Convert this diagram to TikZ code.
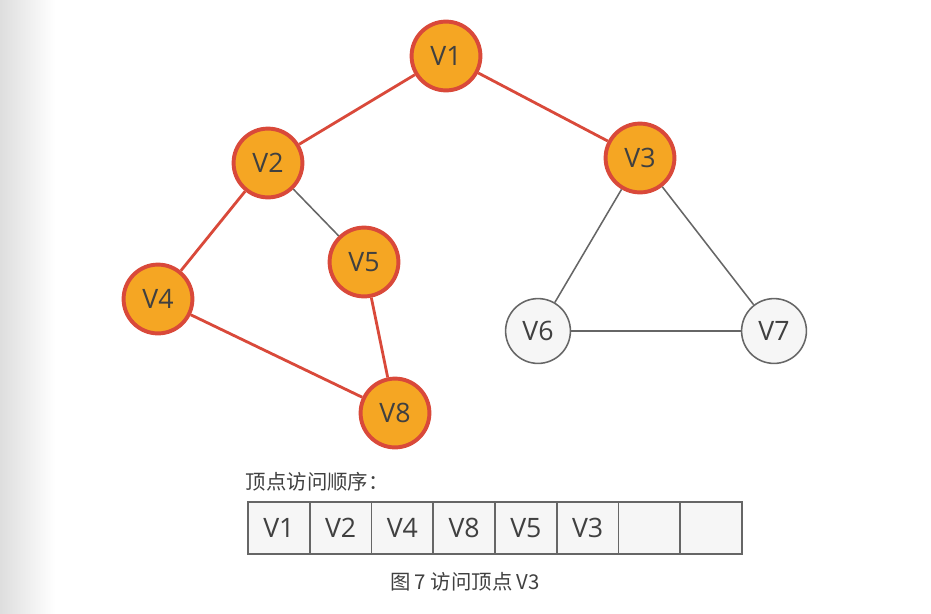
\documentclass[tikz,border=0pt]{standalone}
\usepackage{fontspec}
\setmainfont{Open Sans}
\newfontfamily\cjk{Noto Sans CJK SC}
\usetikzlibrary{positioning}
\definecolor{visitfill}{HTML}{F5A623}
\definecolor{visitline}{HTML}{D9493A}
\definecolor{idleline}{HTML}{666666}
\definecolor{idlefill}{HTML}{F6F6F6}
\definecolor{txt}{HTML}{404040}

\begin{document}
\begin{tikzpicture}[x=0.025cm, y=-0.025cm, font=\fontsize{19}{22}\selectfont, text=txt,
  visited/.style={circle, draw=visitline, line width=2.8pt, fill=visitfill, minimum size=1.72cm, inner sep=0pt},
  idle/.style={circle, draw=idleline, line width=1.1pt, fill=idlefill, minimum size=1.62cm, inner sep=0pt},
  redge/.style={draw=visitline, line width=2pt},
  gedge/.style={draw=idleline, line width=1.1pt},
  cell/.style={draw=idleline, line width=1.1pt, fill=idlefill, minimum width=1.544cm, minimum height=1.3cm, inner sep=0pt, outer sep=0pt},
  cjktext/.style={font=\cjk\fontsize{14.5}{17}\selectfont}]
  \useasboundingbox (0,0) rectangle (931,613);
  \shade[left color=black!13, right color=white] (0,0) rectangle (55,613);

  % graph
  \node[visited] (v1) at (446,56) {V1};
  \node[visited] (v2) at (268,163) {V2};
  \node[visited] (v3) at (640,158) {V3};
  \node[visited] (v4) at (158,299) {V4};
  \node[visited] (v5) at (364,262) {V5};
  \node[idle] (v6) at (538,331) {V6};
  \node[idle] (v7) at (774,331) {V7};
  \node[visited] (v8) at (395,413) {V8};

  \draw[redge] (v1) -- (v2);
  \draw[redge] (v1) -- (v3);
  \draw[redge] (v2) -- (v4);
  \draw[gedge] (v2) -- (v5);
  \draw[redge] (v4) -- (v8);
  \draw[redge] (v5) -- (v8);
  \draw[gedge] (v3) -- (v6);
  \draw[gedge] (v3) -- (v7);
  \draw[gedge] (v6) -- (v7);

  % visiting order
  \node[anchor=west, cjktext] (order) at (241,482) {顶点访问顺序：};
  \foreach \v [count=\i] in {V1,V2,V4,V8,V5,V3,{},{}} {
    \node[cell] (c\i) at ({248+61.75*(\i-0.5)},528) {\v};
  }
  \node[cjktext] (caption) at (465,582) {图 7 访问顶点 V3};
\end{tikzpicture}
\end{document}
